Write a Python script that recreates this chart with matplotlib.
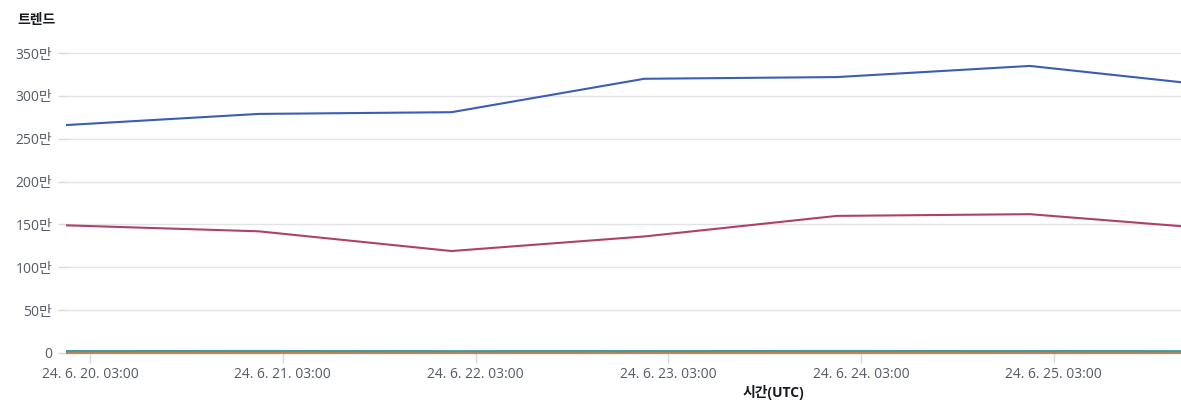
import matplotlib
matplotlib.use("Agg")
import matplotlib.pyplot as plt
import matplotlib.dates as mdates
import numpy as np
from datetime import datetime

plt.rcParams['font.family'] = ['Open Sans', 'Noto Sans CJK KR', 'DejaVu Sans']

# data (values in 만 = 10,000)
times = [datetime(2024, 6, 20, 0), datetime(2024, 6, 21, 0), datetime(2024, 6, 22, 0),
         datetime(2024, 6, 23, 0), datetime(2024, 6, 24, 0), datetime(2024, 6, 25, 0),
         datetime(2024, 6, 25, 18, 50)]
blue_vals = [266, 279, 281, 320, 322, 335, 316]
red_vals = [149, 142, 119, 136, 160, 162, 148]
teal_vals = [2.2, 2.3, 2.1, 2.2, 2.3, 2.2, 2.1]
orange_vals = [0.3, 0.3, 0.3, 0.3, 0.3, 0.3, 0.3]

ytick_vals = [0, 50, 100, 150, 200, 250, 300, 350]
ytick_labels = ['0', '50만', '100만', '150만', '200만', '250만', '300만', '350만']
xtick_times = [datetime(2024, 6, d, 3) for d in range(20, 26)]
xtick_labels = ['24. 6. 20. 03:00', '24. 6. 21. 03:00', '24. 6. 22. 03:00',
                '24. 6. 23. 03:00', '24. 6. 24. 03:00', '24. 6. 25. 03:00']

W, H = 1181, 403
fig = plt.figure(figsize=(W / 100, H / 100), dpi=100)
left, right, bottom, top = 66, 1181, 353, 44.5
ax = fig.add_axes([left / W, (H - bottom) / H, (right - left) / W, (bottom - top) / H])

tx = mdates.date2num(times)
ax.plot(tx, orange_vals, color='#e07941', lw=1.6, solid_capstyle='butt', zorder=3, clip_on=False)
ax.plot(tx, teal_vals, color='#3d9aa6', lw=1.6, solid_capstyle='butt', zorder=4, clip_on=False)
ax.plot(tx, red_vals, color='#b0406a', lw=1.5, zorder=5)
ax.plot(tx, blue_vals, color='#3c5db5', lw=1.5, zorder=5)

ax.set_xlim(tx[0], tx[-1])
ax.set_ylim(0, 360)

ax.set_yticks(ytick_vals)
ax.set_yticklabels(ytick_labels)
ax.set_xticks(mdates.date2num(xtick_times))
ax.set_xticklabels(xtick_labels)

for s in ax.spines.values():
    s.set_visible(False)
ax.grid(axis='y', color='#e1e3e6', lw=1.0, zorder=0)
ax.tick_params(axis='y', length=6, width=1, color='#d5dbdb', pad=4,
               labelsize=10, labelcolor='#545b64')
ax.tick_params(axis='x', length=7, width=1, color='#d5dbdb', pad=3,
               labelsize=10, labelcolor='#545b64')

fig.text(17 / W, 1 - 20 / H, '트렌드', fontsize=10, fontweight='bold',
         color='#16191f', ha='left', va='center')
fig.text(773 / W, 1 - 393 / H, '시간(UTC)', fontsize=10, fontweight='bold',
         color='#16191f', ha='center', va='center')

fig.savefig('out.png', dpi=100)
